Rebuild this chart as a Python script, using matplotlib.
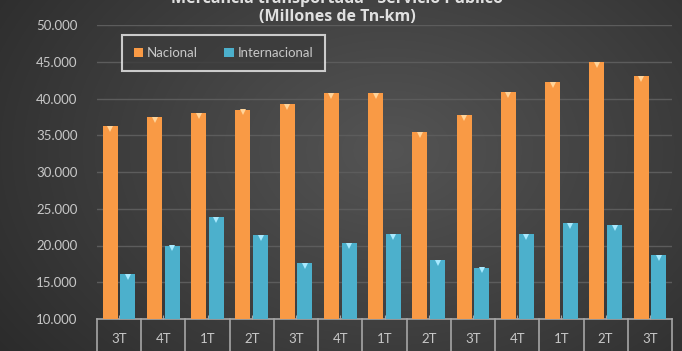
import numpy as np
import matplotlib
matplotlib.use("Agg")
import matplotlib.pyplot as plt
from matplotlib.ticker import FuncFormatter, MultipleLocator

plt.rcParams['font.family'] = ['Lato', 'DejaVu Sans']

periodos = ['3T', '4T', '1T', '2T', '3T', '4T', '1T', '2T', '3T', '4T', '1T', '2T', '3T']
nacional = [36200, 37500, 38000, 38500, 39200, 40800, 40800, 35400, 37800, 40900, 42200, 45000, 43100]
internacional = [16100, 20000, 23900, 21400, 17600, 20300, 21600, 18000, 17000, 21500, 23000, 22800, 18700]

col_nac = '#f99a45'
col_int = '#4cb0cc'
txt = '#c8c8c8'

fig = plt.figure(figsize=(6.82, 3.51), dpi=100)

# dark radial background
bg = fig.add_axes([0, 0, 1, 1], zorder=-5)
yy, xx = np.mgrid[0:351, 0:682]
r = np.sqrt(((xx - 390) / 420.0) ** 2 + ((yy - 150) / 300.0) ** 2)
shade = np.clip(0.33 - 0.14 * r, 0.17, 0.33)
bg.imshow(np.dstack([shade] * 3), aspect='auto', extent=[0, 1, 0, 1])
bg.axis('off')

ax = fig.add_axes([97 / 682, 32 / 351, 575 / 682, 294 / 351])
ax.patch.set_alpha(0)

x = np.arange(len(periodos))
w = 0.34
ax.bar(x - 0.2, nacional, w, color=col_nac, zorder=3, label='Nacional')
ax.bar(x + 0.2, internacional, w, color=col_int, zorder=3, label='Internacional')
# bevel highlight at bar tops
ax.plot(x - 0.2, np.array(nacional) - 400, 'v', color='#ffd49a', ms=5, mew=0, zorder=4)
ax.plot(x + 0.2, np.array(internacional) - 400, 'v', color='#a8eaff', ms=5, mew=0, zorder=4)

ax.set_xlim(-0.5, len(periodos) - 0.5)
ax.set_ylim(10000, 50000)
ax.yaxis.set_major_locator(MultipleLocator(5000))
ax.yaxis.set_major_formatter(FuncFormatter(lambda v, p: f"{int(v):,}".replace(',', '.')))
ax.grid(axis='y', color='#5c5c5c', lw=1, zorder=0)
for s in ['top', 'right', 'left']:
    ax.spines[s].set_visible(False)
ax.spines['bottom'].set_color('#a6a6a6')
ax.spines['bottom'].set_linewidth(1.2)
ax.tick_params(axis='y', length=0, labelsize=9.5, labelcolor=txt, pad=14)
ax.set_xticks(x)
ax.set_xticklabels(periodos)
ax.tick_params(axis='x', direction='in', length=3, color='#a6a6a6', labelsize=9.5, labelcolor=txt, pad=10)

# category boxes below the axis
for b in np.arange(-0.5, len(periodos), 1.0):
    ax.plot([b, b], [0, -0.15], transform=ax.get_xaxis_transform(), color='#a6a6a6',
            lw=1.2, clip_on=False)

leg = ax.legend(loc='upper left', bbox_to_anchor=(25 / 575, 284 / 294), ncol=2, frameon=True,
                fontsize=9.5, labelcolor=txt, handlelength=0.7, handleheight=0.7,
                borderpad=0.9, columnspacing=2.0, handletextpad=0.3, borderaxespad=0)
leg.get_frame().set_facecolor('#3c3c3c')
leg.get_frame().set_edgecolor('#f0f0f0')
leg.get_frame().set_linewidth(1.5)
leg.get_frame().set_boxstyle('square', pad=0)

fig.text(0.494, 1.004, 'Mercancía transportada - Servicio Público', ha='center', va='center',
         fontsize=11.5, fontweight='bold', color='#e0e0e0', family='Open Sans')
fig.text(0.494, 0.952, '(Millones de Tn-km)', ha='center', va='center',
         fontsize=11.5, fontweight='bold', color='#e0e0e0', family='Open Sans')

fig.savefig('out.png', dpi=100)
